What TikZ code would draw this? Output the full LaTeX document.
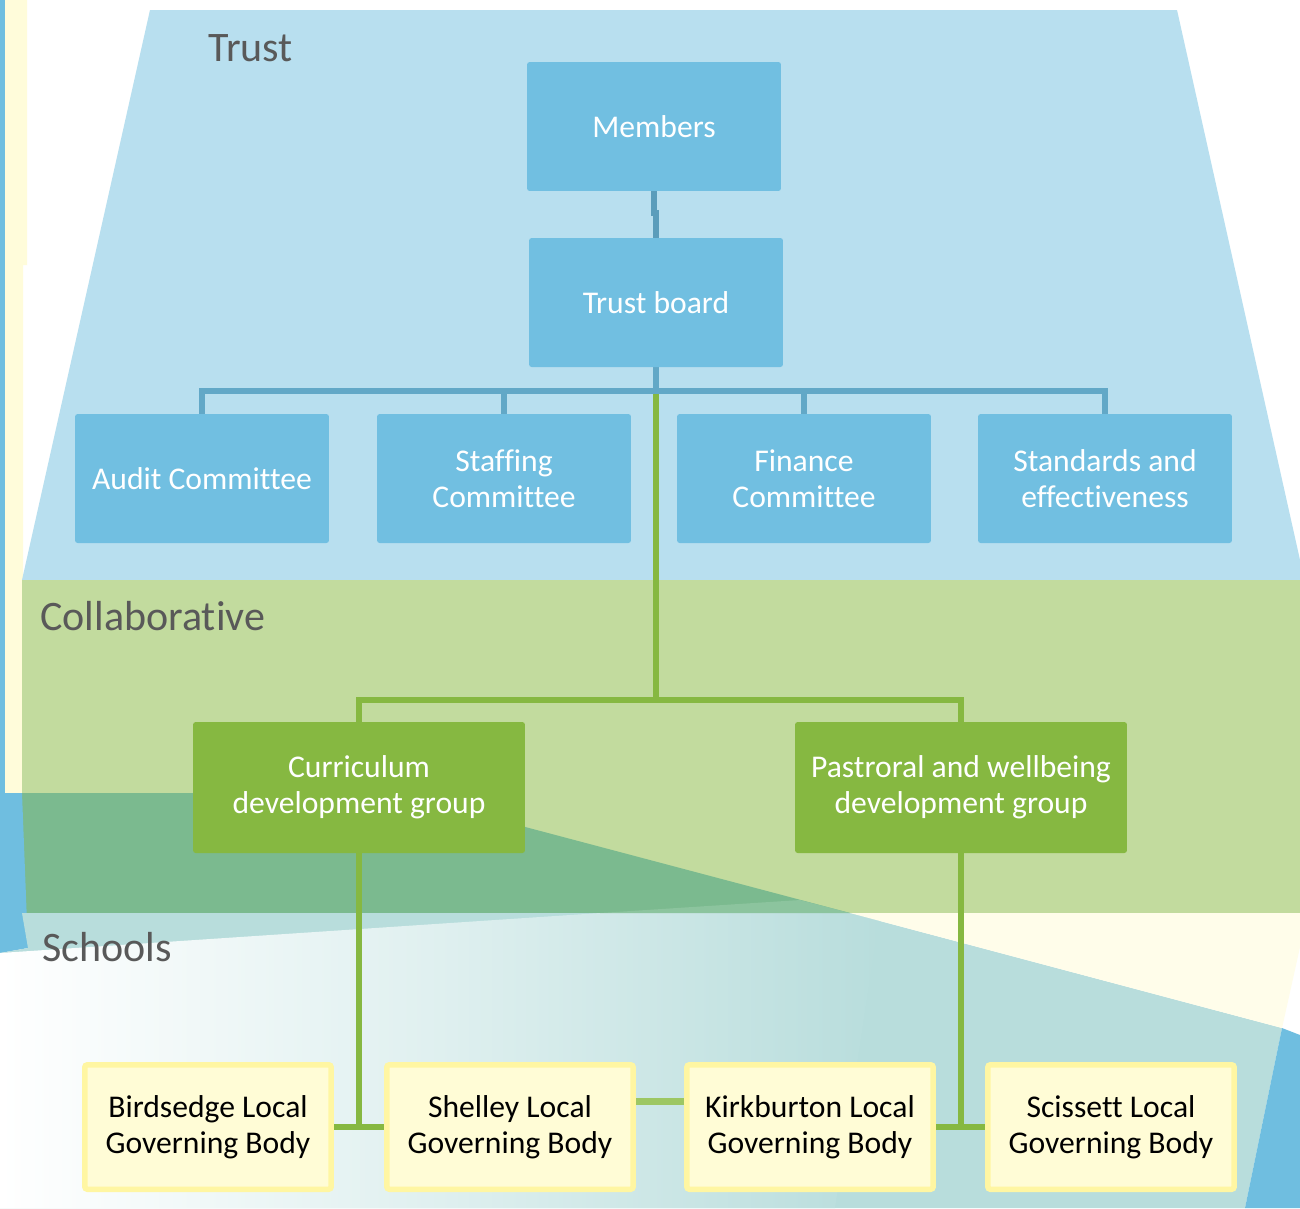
\documentclass[tikz,border=0pt]{standalone}
\usepackage{fontspec}
\setmainfont{Carlito}[Ligatures={NoCommon,NoRequired,NoContextual}]
\usetikzlibrary{calc}
\definecolor{trustbg}{HTML}{B8DFEF}
\definecolor{boxblue}{HTML}{71BFE1}
\definecolor{mtblue}{HTML}{5B9DBB}
\definecolor{barblue}{HTML}{62A8C7}
\definecolor{collabbg}{HTML}{C2DB9E}
\definecolor{darkgrn}{HTML}{7BBA8F}
\definecolor{sliver}{HTML}{8CC49E}
\definecolor{boxgreen}{HTML}{86B841}
\definecolor{lgreen}{HTML}{9DC763}
\definecolor{tealbg}{HTML}{B8DDDC}
\definecolor{creambg}{HTML}{FFFDEA}
\definecolor{creamstrip}{HTML}{FFFCDA}
\definecolor{edgeblue}{HTML}{6FBEE0}
\definecolor{schborder}{HTML}{FFF6A2}
\definecolor{schfill}{HTML}{FFFCD6}
\definecolor{labelgray}{HTML}{595959}
\newcommand\mybxfont{\fontsize{18pt}{20.4pt}\selectfont}
\newcommand\mylblfont{\fontsize{23.9pt}{27pt}\selectfont}
\pgfdeclarelayer{bg}
\pgfdeclarelayer{conn}
\pgfsetlayers{bg,conn,main}
\begin{document}
\begin{tikzpicture}[x=0.02cm,y=-0.02cm,
  bluebox/.style={fill=boxblue, rounded corners=1.5pt, minimum width=5.08cm, minimum height=2.58cm, text=white, align=center, font=\mybxfont, inner sep=0pt},
  greenbox/.style={fill=boxgreen, rounded corners=1.5pt, minimum width=6.64cm, minimum height=2.62cm, text=white, align=center, font=\mybxfont, inner sep=0pt},
  schoolbox/.style={draw=schborder, line width=0.11cm, fill=schfill, rounded corners=1.5pt, minimum width=4.93cm, minimum height=2.49cm, text=black, align=center, font=\mybxfont, inner sep=0pt},
  bandlabel/.style={anchor=west, inner sep=0pt, text=labelgray, font=\mylblfont},
  mtline/.style={draw=mtblue, line width=0.12cm},
  blueline/.style={draw=barblue, line width=0.11cm},
  grnline/.style={draw=boxgreen, line width=0.12cm},
  lgrnline/.style={draw=lgreen, line width=0.14cm}]
\useasboundingbox (0,0) rectangle (1300,1208);
% ---------- background ----------
\begin{pgfonlayer}{bg}
\fill[white] (0,0) rectangle (1300,1208);
\fill[edgeblue] (0,0) rectangle (5,793);
\fill[creamstrip] (5,0) -- (27,0) -- (27,265) -- (23,265) -- (23,793) -- (5,793) -- cycle;
\fill[trustbg] (150,10) -- (1177,10) -- (1300,560) -- (1300,580) -- (22,580) -- cycle;
\fill[collabbg] (22,580) rectangle (1300,913);
\fill[darkgrn] (22,793) -- (397,793) -- (850,913) -- (22,913) -- cycle;
\fill[edgeblue] (0,793) -- (22,793) -- (28,948) -- (0,953) -- cycle;
\fill[tealbg] (22,913) -- (850,913) -- (1282,1028) -- (1245,1208) -- (0,1208) -- (0,953) -- (28,948) -- cycle;
\shade[left color=white, right color=tealbg, middle color=tealbg!45!white] (0,953) -- (600,913) -- (880,913) -- (835,1208) -- (0,1208) -- cycle;
\fill[sliver] (600,913) -- (800,900) -- (850,913) -- cycle;
\fill[creambg] (850,913) -- (1300,913) -- (1300,947) -- (1282,1028) -- cycle;
\fill[edgeblue] (1282,1028) -- (1300,1035) -- (1300,1208) -- (1245,1208) -- cycle;
\end{pgfonlayer}
% ---------- band labels ----------
\node[bandlabel] (lbltrust) at (208,48) {Trust};
\node[bandlabel] (lblcollab) at (40,616) {Collaborative};
\node[bandlabel] (lblschools) at (42,947) {Schools};
% ---------- nodes ----------
\node[bluebox] (mem) at (654,126.5) {Members};
\node[bluebox] (tb) at (656,302.5) {Trust board};
\node[bluebox] (aud) at (202,478.5) {Audit Committee};
\node[bluebox] (stf) at (504,478.5) {Staffing\\Committee};
\node[bluebox] (fin) at (804,478.5) {Finance\\Committee};
\node[bluebox] (std) at (1105,478.5) {Standards and\\effectiveness};
\node[greenbox] (cur) at (359,787.5) {Curriculum\\development group};
\node[greenbox] (pas) at (961,787.5) {Pastroral and wellbeing\\development group};
\node[schoolbox] (bird) at (208,1127) {Birdsedge Local\\Governing Body};
\node[schoolbox] (shel) at (510,1127) {Shelley Local\\Governing Body};
\node[schoolbox] (kirk) at (810,1127) {Kirkburton Local\\Governing Body};
\node[schoolbox] (sci) at (1111,1127) {Scissett Local\\Governing Body};
\coordinate (hub) at (656,391);
\coordinate (gbar) at (656,700);
% ---------- connectors ----------
\begin{pgfonlayer}{conn}
\draw[mtline] (mem.south) -- ++(0,22) -| (tb.north);
\draw[grnline] ($(hub)+(0,3)$) -- (gbar);
\draw[blueline] (tb.south) -- (hub);
\draw[blueline] (aud.north) -- (aud.north |- hub) -- (std.north |- hub) -- (std.north);
\draw[blueline] (stf.north) -- (stf.north |- hub);
\draw[blueline] (fin.north) -- (fin.north |- hub);
\draw[grnline] (cur.north) -- (cur.north |- gbar) -- (pas.north |- gbar) -- (pas.north);
\draw[grnline] (cur.south) -- (cur.south |- bird.east);
\draw[grnline] (bird.east) -- (shel.west);
\draw[grnline] (pas.south) -- (pas.south |- kirk.east);
\draw[grnline] (kirk.east) -- (sci.west);
\draw[lgrnline] ([yshift=0.52cm]shel.east) -- ([yshift=0.52cm]kirk.west);
\end{pgfonlayer}
\end{tikzpicture}
\end{document}
